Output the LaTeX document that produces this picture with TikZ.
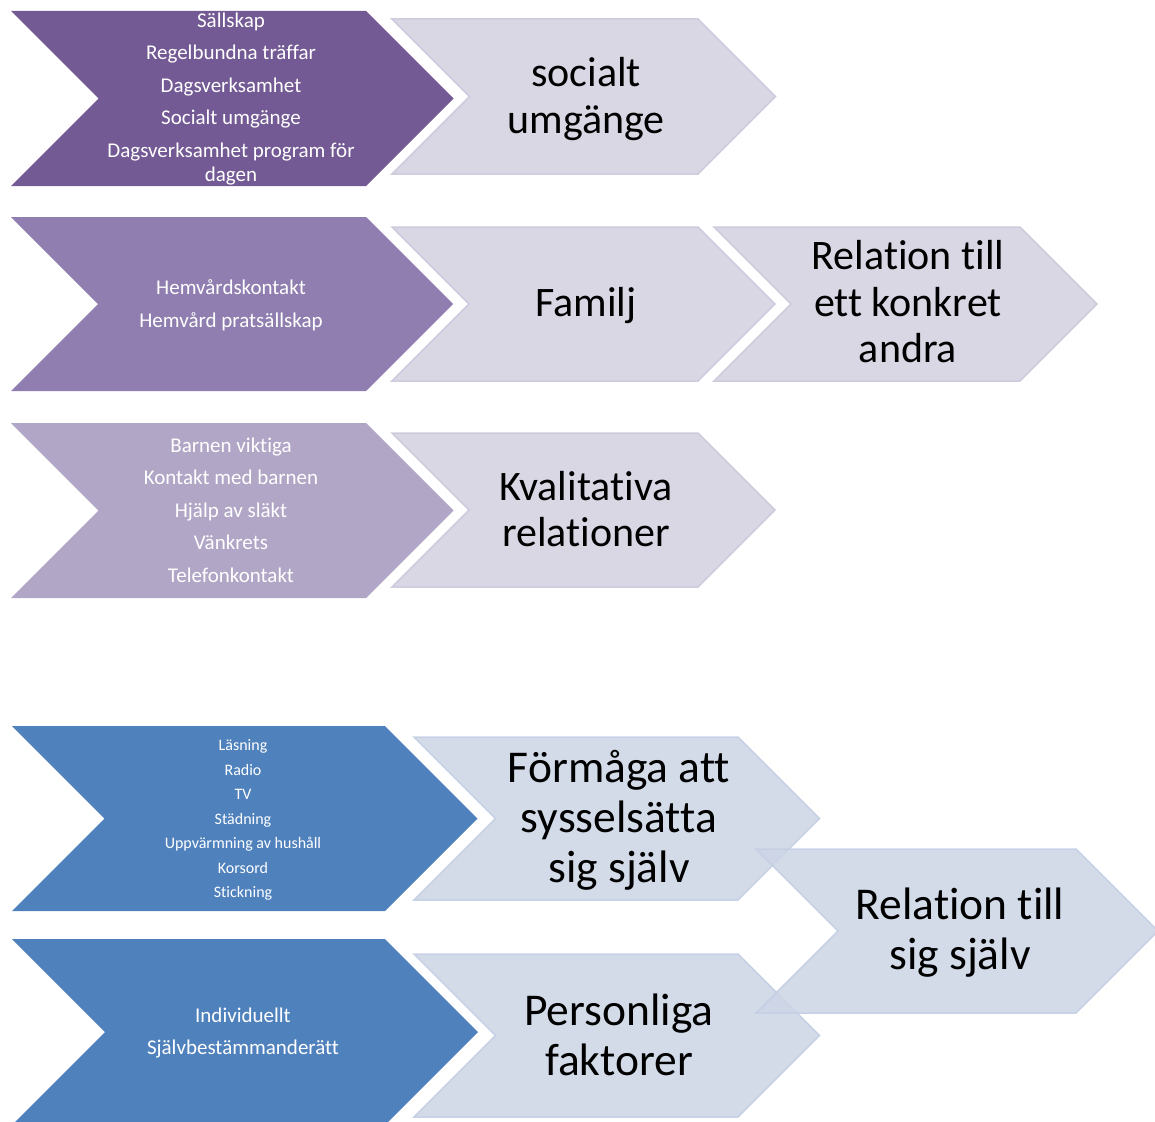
\documentclass[tikz,border=0pt]{standalone}
\usepackage{fontspec}
\setmainfont{Carlito}[Ligatures={NoCommon}]
\definecolor{pA}{HTML}{735A94}
\definecolor{pB}{HTML}{8F7EAF}
\definecolor{pC}{HTML}{B1A6C6}
\definecolor{bA}{HTML}{4F81BD}
\definecolor{lpFill}{RGB}{211,208,223}
\definecolor{lpLine}{RGB}{205,200,220}
\definecolor{lbFill}{RGB}{204,213,230}
\definecolor{lbLine}{RGB}{196,207,228}
\newcommand{\mychev}[5]{%
  \path[#1] (#2,#4) -- (#3,#4) -- ({#3+(#5-#4)/2},{(#4+#5)/2}) -- (#3,#5) -- (#2,#5) -- ({#2+(#5-#4)/2},{(#4+#5)/2}) -- cycle;}
\begin{document}
\begin{tikzpicture}[x=1pt,y=-1pt,
  darkp/.style={fill=#1},
  lightp/.style={fill=lpFill,fill opacity=0.85,draw=lpLine,draw opacity=0.9,line width=1.5pt,line join=miter},
  lightb/.style={fill=lbFill,fill opacity=0.85,draw=lbLine,draw opacity=0.9,line width=1.5pt,line join=miter},
  small/.style={text=white,align=center,font=\fontsize{21}{24}\selectfont},
  tiny/.style={text=white,align=center,font=\fontsize{16}{24.5}\selectfont},
  big/.style={text=black,align=center,font=\fontsize{42}{46.5}\selectfont},
  bigger/.style={text=black,align=center,font=\fontsize{45.5}{50}\selectfont}]
\useasboundingbox (0,0) rectangle (1155,1121);
\fill[white] (0,0) rectangle (1155,1121);
% row 1
\mychev{darkp=pA}{11}{366}{11}{186}
\mychev{lightp}{392}{698}{19}{174}
\node[small] (t1) at (231,99) {Sällskap\\[8.5pt]Regelbundna träffar\\[8.5pt]Dagsverksamhet\\[8.5pt]Socialt umgänge\\[8.5pt]Dagsverksamhet program för\\dagen};
\node[big] (s1) at (586,99) {socialt\\umgänge};
% row 2
\mychev{darkp=pB}{11}{366}{217}{391}
\mychev{lightp}{392}{698}{227}{381}
\mychev{lightp}{714}{1020}{227}{381}
\node[small] (t2) at (231,305) {Hemvårdskontakt\\[8.5pt]Hemvård pratsällskap};
\node[big] (s2) at (586,306) {Familj};
\node[big] (s3) at (908,302) {Relation till\\ett konkret\\andra};
% row 3
\mychev{darkp=pC}{11}{366}{423}{598}
\mychev{lightp}{392}{698}{433}{587}
\node[small] (t3) at (231,510) {Barnen viktiga\\[8.5pt]Kontakt med barnen\\[8.5pt]Hjälp av släkt\\[8.5pt]Vänkrets\\[8.5pt]Telefonkontakt};
\node[big] (s4) at (586,509) {Kvalitativa\\relationer};
% blue rows
\mychev{darkp=bA}{12}{385}{726}{911}
\mychev{darkp=bA}{12}{385}{939}{1125}
\mychev{lightb}{414}{738}{737}{900}
\mychev{lightb}{414}{738}{954}{1117}
\mychev{lightb}{756}{1076}{849}{1013}
\node[tiny] (t4) at (243,820) {Läsning\\Radio\\TV\\Städning\\Uppvärmning av hushåll\\Korsord\\Stickning};
\node[small] (t5) at (243,1033) {Individuellt\\[8.5pt]Självbestämmanderätt};
\node[bigger] (s5) at (619,820) {Förmåga att\\sysselsätta\\sig själv};
\node[bigger] (s6) at (619,1035) {Personliga\\faktorer};
\node[bigger] (s7) at (960,933) {Relation till\\sig själv};
\end{tikzpicture}
\end{document}
